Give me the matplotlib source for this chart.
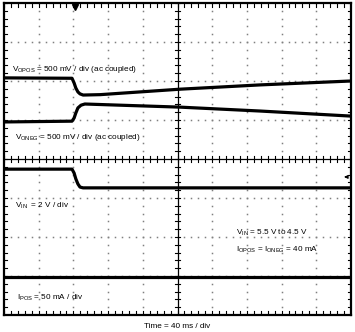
import numpy as np
import matplotlib
matplotlib.use('Agg')
import matplotlib.pyplot as plt

plt.rcParams['font.family'] = ['Liberation Sans', 'DejaVu Sans']
plt.rcParams['mathtext.fontset'] = 'custom'
plt.rcParams['mathtext.rm'] = 'Liberation Sans'
plt.rcParams['mathtext.it'] = 'Liberation Sans'

# Кривые осциллограммы (x и y в делениях экрана)
vopos_x = [0, 1.96, 2.02, 2.07, 2.13, 2.19, 2.28, 2.77, 5.07, 7.38, 10]
vopos_y = [6.08, 6.07, 5.95, 5.82, 5.72, 5.67, 5.64, 5.65, 5.79, 5.90, 6.00]

voneg_x = [0, 1.96, 2.02, 2.07, 2.13, 2.22, 2.33, 3.34, 5.07, 7.38, 10]
voneg_y = [4.95, 4.97, 5.05, 5.18, 5.31, 5.38, 5.41, 5.38, 5.33, 5.23, 5.10]

vin_x = [0, 1.96, 2.02, 2.07, 2.13, 2.19, 2.28, 10]
vin_y = [3.74, 3.74, 3.64, 3.49, 3.36, 3.28, 3.26, 3.26]

ipos_x = [0, 10]
ipos_y = [0.97, 0.97]

fig = plt.figure(figsize=(3.55, 3.32), dpi=100)
ax = fig.add_axes([4 / 355, 17 / 332, 347 / 355, 312 / 332])
ax.set_xlim(0, 10)
ax.set_ylim(0, 8)
ax.set_xticks([])
ax.set_yticks([])
for s in ax.spines.values():
    s.set_linewidth(1.6)

# Точечная сетка
sub = np.arange(0, 10.01, 0.2)
for gy in range(1, 8):
    if gy != 4:
        ax.plot(sub, np.full_like(sub, gy), ls='none', marker='s', ms=1.1, mew=0, color='#808080')
sub_y = np.arange(0, 8.01, 0.2)
for gx in range(1, 10):
    if gx != 5:
        ax.plot(np.full_like(sub_y, gx), sub_y, ls='none', marker='s', ms=1.1, mew=0, color='#808080')

# Центральные оси и засечки
ax.axhline(4, color='black', lw=0.9)
ax.axvline(5, color='black', lw=0.9)
tl = 0.08
for t in sub:
    ax.plot([t, t], [4 - tl, 4 + tl], color='black', lw=0.8)
    ax.plot([t, t], [0, tl * 1.2], color='black', lw=0.8)
    ax.plot([t, t], [8, 8 - tl * 1.2], color='black', lw=0.8)
for t in sub_y:
    ax.plot([5 - tl * 0.9, 5 + tl * 0.9], [t, t], color='black', lw=0.8)
    ax.plot([0, tl], [t, t], color='black', lw=0.8)
    ax.plot([10, 10 - tl], [t, t], color='black', lw=0.8)

# Сигналы
for xs, ys in [(vopos_x, vopos_y), (voneg_x, voneg_y), (vin_x, vin_y), (ipos_x, ipos_y)]:
    ax.plot(xs, ys, color='black', lw=2.3, solid_joinstyle='round')

# Маркеры триггера и уровня
ax.plot(2.05, 7.9, marker='v', ms=4, color='black', clip_on=False)
ax.annotate('', xy=(9.72, 3.54), xytext=(9.95, 3.54),
            arrowprops=dict(arrowstyle='-|>', color='black', lw=0.8, mutation_scale=5))

fs = 5.9
ax.text(0.23, 6.3, r'V$_{\mathrm{OPOS}}$ = 500 mV / div (ac coupled)', fontsize=fs, va='center')
ax.text(0.32, 4.54, r'V$_{\mathrm{ONEG}}$ = 500 mV / div (ac coupled)', fontsize=fs, va='center')
ax.text(0.32, 2.8, r'V$_{\mathrm{IN}}$  = 2 V / div', fontsize=fs, va='center')
ax.text(0.38, 0.45, r'I$_{\mathrm{POS}}$ = 50 mA / div', fontsize=fs, va='center')
ax.text(6.68, 2.1, r'V$_{\mathrm{IN}}$ = 5.5 V to 4.5 V', fontsize=fs, va='center')
ax.text(6.68, 1.66, r'I$_{\mathrm{OPOS}}$ = I$_{\mathrm{ONEG}}$ = 40 mA', fontsize=fs, va='center')

fig.text(177 / 355, 1 - 326 / 332, 'Time = 40 ms / div', fontsize=fs, ha='center', va='center')

fig.savefig('out.png', dpi=100)
